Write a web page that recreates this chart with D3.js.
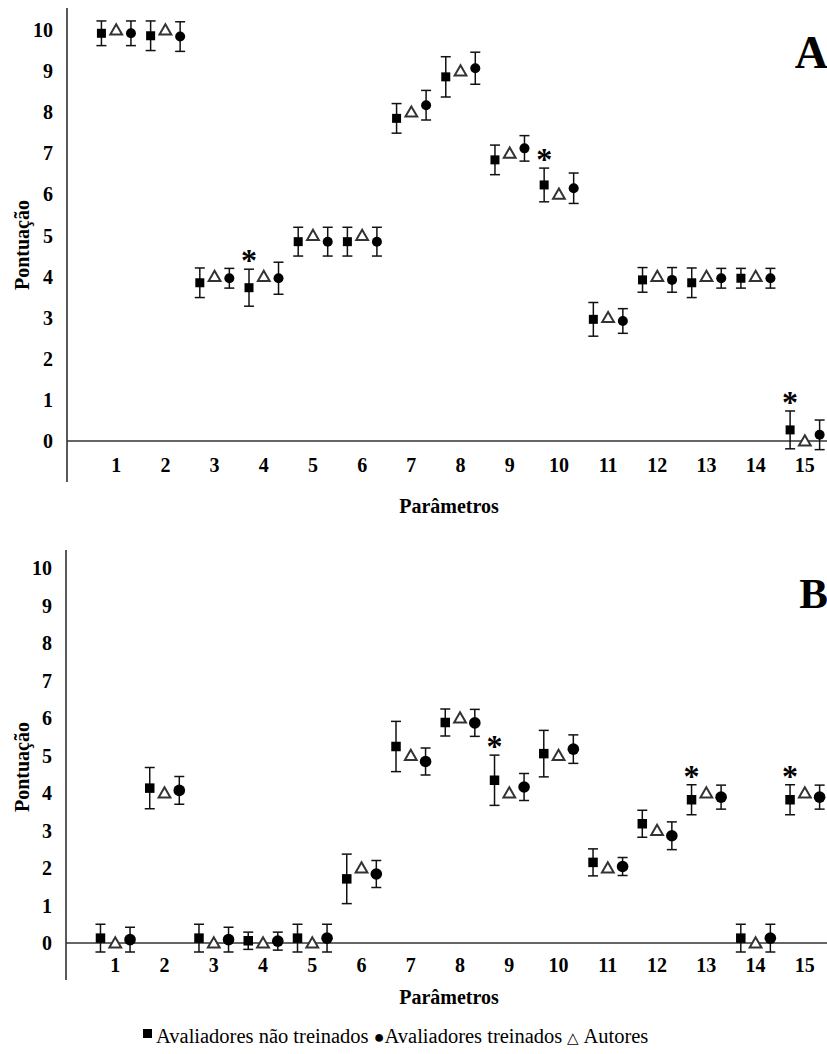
<!DOCTYPE html>
<html>
<head>
<meta charset="utf-8">
<script src="https://cdn.jsdelivr.net/npm/d3@7"></script>
<style>
  body { margin: 0; background: #fff; }
</style>
</head>
<body>
<div id="chart"></div>
<script>
const params = [1, 2, 3, 4, 5, 6, 7, 8, 9, 10, 11, 12, 13, 14, 15];
const yTicks = [0, 1, 2, 3, 4, 5, 6, 7, 8, 9, 10];

// Panel A
const aUntrained    = [9.92, 9.86, 3.85, 3.73, 4.85, 4.85, 7.85, 8.86, 6.84, 6.23, 2.96, 3.92, 3.85, 3.96, 0.27];
const aUntrainedErr = [0.30, 0.36, 0.36, 0.45, 0.35, 0.35, 0.36, 0.49, 0.36, 0.41, 0.41, 0.30, 0.36, 0.24, 0.46];
const aTrained      = [9.92, 9.84, 3.96, 3.96, 4.85, 4.85, 8.17, 9.07, 7.12, 6.15, 2.92, 3.92, 3.96, 3.96, 0.15];
const aTrainedErr   = [0.30, 0.36, 0.24, 0.39, 0.35, 0.35, 0.36, 0.39, 0.31, 0.37, 0.30, 0.30, 0.24, 0.24, 0.36];
const aAuthors      = [10, 10, 4, 4, 5, 5, 8, 9, 7, 6, 3, 4, 4, 4, 0];
const aSignificant  = [4, 10, 15];

// Panel B
const bUntrained    = [0.13, 4.13, 0.13, 0.06, 0.13, 1.71, 5.24, 5.88, 4.34, 5.05, 2.15, 3.18, 3.82, 0.13, 3.82];
const bUntrainedErr = [0.37, 0.55, 0.37, 0.23, 0.37, 0.66, 0.67, 0.36, 0.67, 0.62, 0.36, 0.36, 0.40, 0.37, 0.40];
const bTrained      = [0.09, 4.07, 0.09, 0.05, 0.13, 1.84, 4.84, 5.87, 4.16, 5.17, 2.04, 2.86, 3.89, 0.13, 3.89];
const bTrainedErr   = [0.33, 0.37, 0.33, 0.24, 0.37, 0.36, 0.36, 0.36, 0.36, 0.38, 0.24, 0.37, 0.32, 0.37, 0.32];
const bAuthors      = [0, 4, 0, 0, 0, 2, 5, 6, 4, 5, 2, 3, 4, 0, 4];
const bSignificant  = [9, 13, 15];

const seriesNames = ["Avaliadores não treinados", "Avaliadores treinados", "Autores"];

const serif = "'Liberation Serif', 'Times New Roman', serif";

const svg = d3.select("#chart").append("svg")
    .attr("width", 827)
    .attr("height", 1054)
    .attr("font-family", serif);

function drawPanel(opt) {
    const g = svg.append("g");
    const x = d3.scaleLinear().domain([0, 15.45]).range([opt.left, 827]);
    const y = d3.scaleLinear().domain([0, 10]).range([opt.zeroY, opt.tenY]);

    // y axis line
    g.append("line")
        .attr("x1", opt.left).attr("x2", opt.left)
        .attr("y1", opt.axisTop).attr("y2", opt.axisBottom)
        .attr("stroke", "#222").attr("stroke-width", 1.5);
    // zero line
    g.append("line")
        .attr("x1", opt.left).attr("x2", 827)
        .attr("y1", y(0)).attr("y2", y(0))
        .attr("stroke", "#333").attr("stroke-width", 1.5);

    g.selectAll(".ytick").data(yTicks).enter().append("text")
        .attr("x", opt.left - 14)
        .attr("y", d => y(d))
        .attr("dy", "0.35em")
        .attr("text-anchor", "end")
        .attr("font-size", "20px")
        .attr("font-weight", "bold")
        .text(d => d);

    g.selectAll(".xtick").data(params).enter().append("text")
        .attr("x", d => x(d))
        .attr("y", opt.xLabelY)
        .attr("text-anchor", "middle")
        .attr("font-size", "20px")
        .attr("font-weight", "bold")
        .text(d => d);

    g.append("text")
        .attr("x", 449).attr("y", opt.xTitleY)
        .attr("text-anchor", "middle")
        .attr("font-size", "20px").attr("font-weight", "bold")
        .text("Parâmetros");

    g.append("text")
        .attr("transform", `translate(29,${opt.yTitleY}) rotate(-90)`)
        .attr("text-anchor", "middle")
        .attr("font-size", "20px").attr("font-weight", "bold")
        .text("Pontuação");

    g.append("text")
        .attr("x", 828).attr("y", opt.letterY)
        .attr("text-anchor", "end")
        .attr("font-size", opt.letterSize).attr("font-weight", "bold")
        .text(opt.letter);

    const off = 0.3;
    const cap = 5;

    function errorBars(vals, errs, dx) {
        params.forEach((p, i) => {
            const cx = x(p + dx);
            const y1 = y(vals[i] + errs[i]), y2 = y(vals[i] - errs[i]);
            g.append("line").attr("x1", cx).attr("x2", cx).attr("y1", y1).attr("y2", y2)
                .attr("stroke", "#111").attr("stroke-width", 1.5);
            [y1, y2].forEach(yy => g.append("line")
                .attr("x1", cx - cap).attr("x2", cx + cap).attr("y1", yy).attr("y2", yy)
                .attr("stroke", "#111").attr("stroke-width", 1.5));
        });
    }
    errorBars(opt.untrained, opt.untrainedErr, -off);
    errorBars(opt.trained, opt.trainedErr, off);

    const s = opt.square;
    g.selectAll(".sq").data(params).enter().append("rect")
        .attr("x", (d, i) => x(d - off) - s / 2)
        .attr("y", (d, i) => y(opt.untrained[i]) - s / 2)
        .attr("width", s).attr("height", s)
        .attr("fill", "#000");

    g.selectAll(".ci").data(params).enter().append("circle")
        .attr("cx", d => x(d + off))
        .attr("cy", (d, i) => y(opt.trained[i]))
        .attr("r", opt.radius)
        .attr("fill", "#000");

    const tri = d3.symbol().type(d3.symbolTriangle).size(60);
    g.selectAll(".tr").data(params).enter().append("path")
        .attr("d", tri)
        .attr("transform", (d, i) => `translate(${x(d)},${y(opt.authors[i]) + 1})`)
        .attr("fill", "#fff")
        .attr("stroke", "#333").attr("stroke-width", 2);

    g.selectAll(".ast").data(opt.significant).enter().append("text")
        .attr("x", d => x(d - off))
        .attr("y", d => y(opt.untrained[d - 1] + opt.untrainedErr[d - 1]) + 2)
        .attr("text-anchor", "middle")
        .attr("font-size", "32px").attr("font-weight", "bold")
        .text("*");
}

drawPanel({
    letter: "A", letterSize: "46px", left: 67, axisTop: 8, axisBottom: 482, zeroY: 441, tenY: 30,
    xLabelY: 472, xTitleY: 513, yTitleY: 245, letterY: 68,
    square: 9, radius: 5,
    untrained: aUntrained, untrainedErr: aUntrainedErr,
    trained: aTrained, trainedErr: aTrainedErr,
    authors: aAuthors, significant: aSignificant
});

drawPanel({
    letter: "B", letterSize: "43px", left: 66, axisTop: 550, axisBottom: 980, zeroY: 943, tenY: 568,
    xLabelY: 972, xTitleY: 1004, yTitleY: 767, letterY: 608,
    square: 9.5, radius: 5.8,
    untrained: bUntrained, untrainedErr: bUntrainedErr,
    trained: bTrained, trainedErr: bTrainedErr,
    authors: bAuthors, significant: bSignificant
});

// legend
const legend = svg.append("g").attr("transform", "translate(0,1036)");
legend.append("rect").attr("x", 143).attr("y", -7).attr("width", 9).attr("height", 9).attr("fill", "#000");
const legendText = legend.append("text")
    .attr("x", 156).attr("y", 7)
    .attr("font-size", "20.5px");
legendText.append("tspan").text(seriesNames[0] + " ");
legendText.append("tspan").attr("font-size", "18px").text("●");
legendText.append("tspan").text(seriesNames[1] + " ");
legendText.append("tspan").attr("font-size", "15px").text("△");
legendText.append("tspan").text(" " + seriesNames[2]);
</script>
</body>
</html>
